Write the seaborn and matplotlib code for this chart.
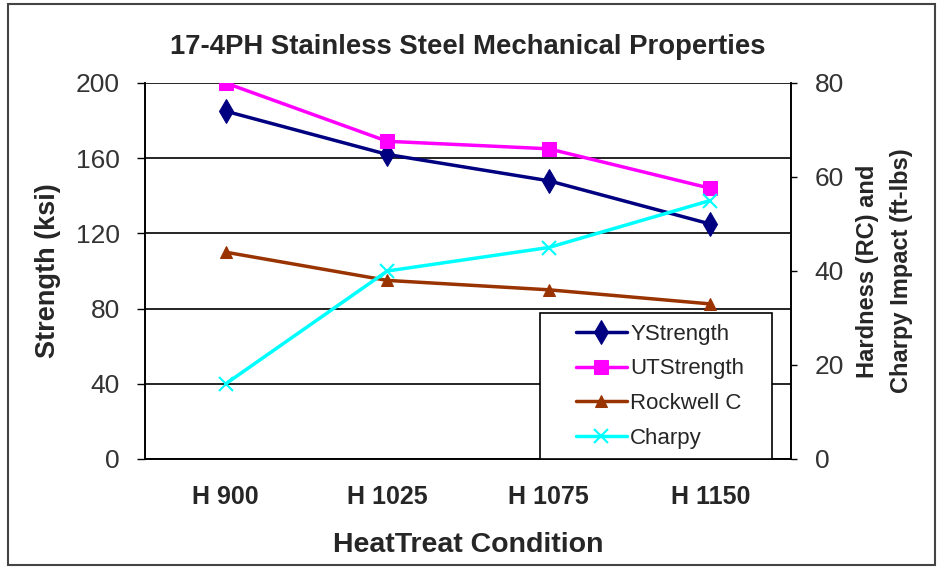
import matplotlib
matplotlib.use("Agg")
import matplotlib.pyplot as plt
import seaborn as sns
import pandas as pd
from matplotlib.patches import Rectangle

# data
conditions = ["H 900", "H 1025", "H 1075", "H 1150"]
ystrength = [185, 162, 148, 125]
utstrength = [200, 169, 165, 144]
rockwell_c = [44, 38, 36, 33]
charpy = [16, 40, 45, 55]

sns.set_style("white")
plt.rcParams["font.family"] = ["Liberation Sans", "DejaVu Sans"]

df = pd.DataFrame({"cond": conditions, "YStrength": ystrength, "UTStrength": utstrength,
                   "Rockwell C": rockwell_c, "Charpy": charpy})

fig = plt.figure(figsize=(9.38, 5.69), dpi=100)
ax = fig.add_axes([145 / 938, 1 - 459 / 569, 646 / 938, 376 / 569])
ax2 = ax.twinx()

lw = 2.5
sns.lineplot(data=df, x="cond", y="YStrength", ax=ax, color="#000080", marker="d",
             markersize=12, mec="#000080", lw=lw, sort=False, label="YStrength", legend=False)
sns.lineplot(data=df, x="cond", y="UTStrength", ax=ax, color="#FF00FF", marker="s",
             markersize=10, mec="#FF00FF", lw=lw, sort=False, label="UTStrength", legend=False)
sns.lineplot(data=df, x="cond", y="Rockwell C", ax=ax2, color="#993300", marker="^",
             markersize=8, mec="#993300", lw=lw, sort=False, label="Rockwell C", legend=False)
sns.lineplot(data=df, x="cond", y="Charpy", ax=ax2, color="#00FFFF", marker="x",
             markersize=10, mec="#00FFFF", mew=1.5, lw=lw, sort=False, label="Charpy",
             legend=False)

ax.set_ylim(0, 200)
ax2.set_ylim(0, 80)
ax.set_xlim(-0.5, 3.5)
ax.set_yticks([0, 40, 80, 120, 160, 200])
ax2.set_yticks([0, 20, 40, 60, 80])
ax.yaxis.grid(True, color="black", lw=1.2)
ax.set_axisbelow(True)

ax.set_xticks(range(len(conditions)))
ax.set_xticklabels(conditions, fontsize=18, fontweight="bold")
ax.set_xticks([-0.5, 0.5, 1.5, 2.5, 3.5], minor=True)
ax.tick_params(axis="x", which="major", length=0, pad=19)
ax.tick_params(axis="x", which="minor", length=6, width=1, direction="out", color="black")
ax.tick_params(axis="y", length=6, width=1, direction="out", color="black",
               labelsize=19, labelcolor="#333333", pad=12)
ax2.tick_params(axis="y", length=4, width=1, direction="out", color="black",
                labelsize=19, labelcolor="#333333", pad=13)

for a in (ax, ax2):
    for s in a.spines.values():
        s.set_color("black")
        s.set_linewidth(1.2)
ax2.spines["top"].set_visible(False)
ax.spines["top"].set_visible(False)

ax.set_xlabel("HeatTreat Condition", fontsize=20.5, fontweight="bold", labelpad=16)
ax.set_ylabel("Strength (ksi)", fontsize=19.5, fontweight="bold", labelpad=11)
ax2.set_ylabel("Hardness (RC) and\nCharpy Impact (ft-lbs)", fontsize=17,
               fontweight="bold", labelpad=9, rotation=90, linespacing=1.6)
ax.set_title("17-4PH Stainless Steel Mechanical Properties", fontsize=19.8,
             fontweight="bold", pad=21)

# legend box drawn by hand, entries placed inside it
ax2.add_patch(Rectangle((0.611, 0.0), 0.36, 0.388, transform=ax2.transAxes,
                        facecolor="white", edgecolor="black", lw=1.2, zorder=5))
h1, l1 = ax.get_legend_handles_labels()
h2, l2 = ax2.get_legend_handles_labels()
leg = ax2.legend(h1 + h2, l1 + l2, loc="upper left", bbox_to_anchor=(0.66, 0.372),
                 fontsize=16, frameon=False, borderpad=0.2, labelspacing=0.62,
                 handlelength=2.3, handletextpad=0.15, borderaxespad=0)
leg.set_zorder(6)

fig.patches.append(Rectangle((8 / 938, 4 / 569), 927 / 938, 561 / 569, transform=fig.transFigure,
                             fill=False, edgecolor="#444444", lw=1.5))

fig.savefig("out.png", dpi=100)
